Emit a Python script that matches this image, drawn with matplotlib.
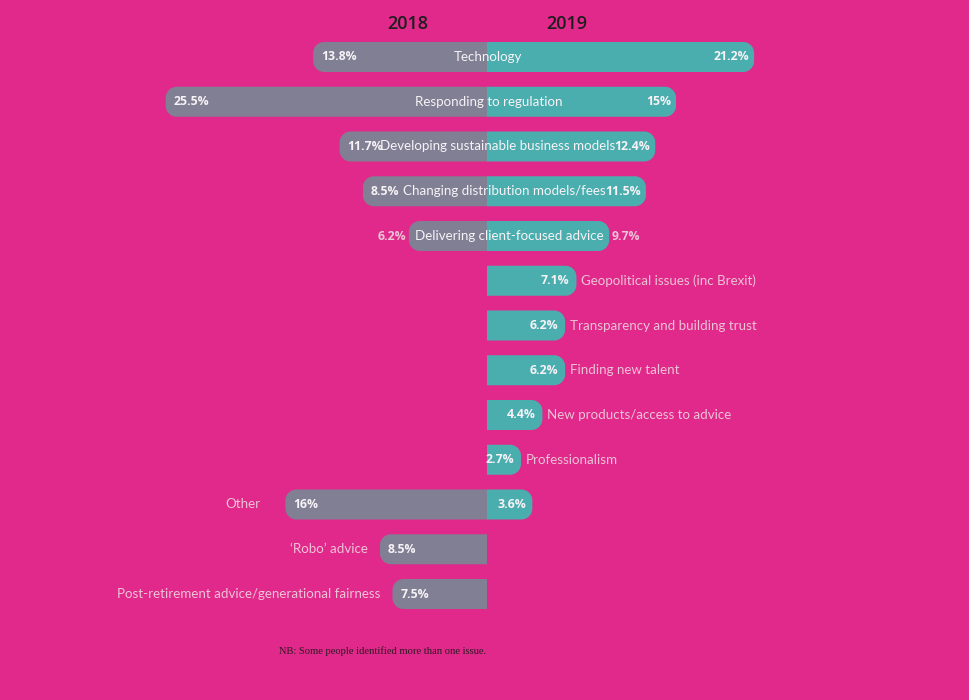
import matplotlib
matplotlib.use("Agg")
import matplotlib.pyplot as plt
from matplotlib.path import Path
from matplotlib.patches import PathPatch

# ---- data ----
categories = [
    "Technology",
    "Responding to regulation",
    "Developing sustainable business models",
    "Changing distribution models/fees",
    "Delivering client-focused advice",
    "Geopolitical issues (inc Brexit)",
    "Transparency and building trust",
    "Finding new talent",
    "New products/access to advice",
    "Professionalism",
    "Other",
    "\u2018Robo\u2019 advice",
    "Post-retirement advice/generational fairness",
]
values_2018 = [13.8, 25.5, 11.7, 8.5, 6.2, None, None, None, None, None, 16.0, 8.5, 7.5]
values_2019 = [21.2, 15.0, 12.4, 11.5, 9.7, 7.1, 6.2, 6.2, 4.4, 2.7, 3.6, None, None]
labels_2018 = ["13.8%", "25.5%", "11.7%", "8.5%", "6.2%", "", "", "", "", "", "16%", "8.5%", "7.5%"]
labels_2019 = ["21.2%", "15%", "12.4%", "11.5%", "9.7%", "7.1%", "6.2%", "6.2%", "4.4%", "2.7%", "3.6%", "", ""]
years = ["2018", "2019"]
note = "NB: Some people identified more than one issue."

# ---- layout / style (kept separate from data) ----
layout = ["center", "center", "mid", "mid", "mid_out",
          "right", "right", "right", "right", "right",
          "left_wide", "left", "left"]
# extra bar length (pixels) the original used to make room for long labels
pad_left_px = [0, 0, 0, 17, 0, 0, 0, 0, 0, 0, 0, 0, 0]
pad_right_px = [0, 0, 12, 14, 0, 0, 0, 0, 0, 0, 0, 0, 0]

BG = "#E0298A"
GREY = "#807F93"
TEAL = "#4BAEAE"
LIGHT = "#EDC3D6"
WHITE = "#F7F3F7"

W, H = 970, 700
PX_X = 12.6      # pixels per percent
PX_Y = 44.75     # pixels per row
CX, Y0 = 487, 57

fig = plt.figure(figsize=(W / 100, H / 100), dpi=100, facecolor=BG)
ax = fig.add_axes([0, 0, 1, 1])
ax.set_facecolor(BG)
ax.set_xlim(-CX / PX_X, (W - CX) / PX_X)
ax.set_ylim((H - Y0) / PX_Y, -Y0 / PX_Y)
ax.axis("off")

bar_h = 30 / PX_Y
rx = 11 / PX_X
ry = 11 / PX_Y
K = 0.5523


def rbar(y, end, color):
    """Bar from 0 to `end` (signed), rounded only at the outer end."""
    s = 1 if end > 0 else -1
    e = end
    y0, y1 = y - bar_h / 2, y + bar_h / 2
    verts = [
        (0, y0),
        (e - s * rx, y0),
        (e - s * rx + s * K * rx, y0), (e, y0 + ry - K * ry), (e, y0 + ry),
        (e, y1 - ry),
        (e, y1 - ry + K * ry), (e - s * rx + s * K * rx, y1), (e - s * rx, y1),
        (0, y1),
        (0, y0),
    ]
    codes = [Path.MOVETO, Path.LINETO,
             Path.CURVE4, Path.CURVE4, Path.CURVE4,
             Path.LINETO,
             Path.CURVE4, Path.CURVE4, Path.CURVE4,
             Path.LINETO, Path.CLOSEPOLY]
    ax.add_patch(PathPatch(Path(verts, codes), fc=color, ec="none", lw=0))


cat_font = dict(family=["Lato", "DejaVu Sans"], fontsize=9.6)
pct_font = dict(family=["Open Sans", "DejaVu Sans"], fontsize=8.8, fontweight="bold")


def txt(x, y, s, dx_px, ha, color, font):
    ax.annotate(s, (x, y), xytext=(dx_px * 0.72, 0), textcoords="offset points",
                ha=ha, va="center", color=color, **font)


for i, cat in enumerate(categories):
    v18, v19 = values_2018[i], values_2019[i]
    mode = layout[i]
    L = R = None
    if v18 is not None:
        L = -v18 - pad_left_px[i] / PX_X
        rbar(i, L, GREY)
    if v19 is not None:
        R = v19 + pad_right_px[i] / PX_X
        rbar(i, R, TEAL)

    if mode in ("center", "mid"):
        txt(L, i, labels_2018[i], 8, "left", WHITE, pct_font)
        txt(R, i, labels_2019[i], -5, "right", WHITE, pct_font)
        cxp = 0.1 if mode == "center" else (R + L) / 2
        txt(cxp, i, cat, 0, "center", WHITE, cat_font)
    elif mode == "mid_out":
        txt(L, i, labels_2018[i], -3, "right", LIGHT, pct_font)
        txt(R, i, labels_2019[i], 2, "left", LIGHT, pct_font)
        txt((R + L) / 2, i, cat, 0, "center", WHITE, cat_font)
    elif mode == "right":
        txt(R, i, labels_2019[i], -7, "right", WHITE, pct_font)
        txt(R, i, cat, 5, "left", LIGHT, cat_font)
    elif mode == "left_wide":
        txt(L, i, labels_2018[i], 8, "left", WHITE, pct_font)
        txt(R, i, labels_2019[i], -6, "right", WHITE, pct_font)
        txt(L, i, cat, -25, "right", LIGHT, cat_font)
    else:
        txt(L, i, labels_2018[i], 8, "left", WHITE, pct_font)
        txt(L, i, cat, -12, "right", LIGHT, cat_font)

# year headers
hdr = dict(ha="center", va="center", color="#1E1E1E",
           family=["Open Sans", "DejaVu Sans"], fontsize=13, fontweight="semibold")
ax.text(-6.27, -0.74, years[0], **hdr)
ax.text(6.35, -0.74, years[1], **hdr)

# footnote
ax.text(-8.3, 13.27, note, ha="center", va="center", color="#2A1A22",
        family=["Liberation Serif", "DejaVu Serif"], fontsize=7.6)

fig.savefig("out.png", dpi=100, facecolor=BG)
